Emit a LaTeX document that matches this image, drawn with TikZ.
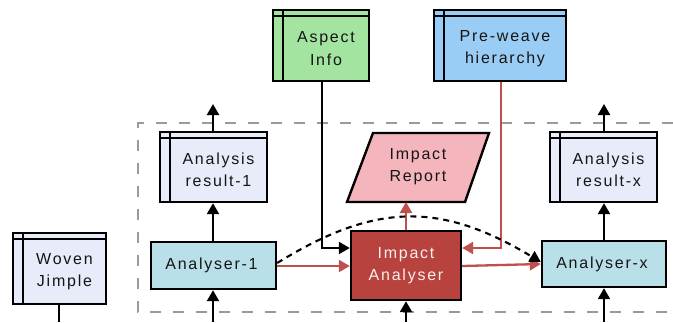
\documentclass[tikz,border=0pt]{standalone}
\usepackage{fontspec}
\setmainfont{Liberation Sans}[LetterSpace=11]
\usetikzlibrary{arrows.meta}

\definecolor{aspectgreen}{HTML}{A3E4A0}
\definecolor{weaveblue}{HTML}{99CDF5}
\definecolor{dbfill}{HTML}{E8ECFA}
\definecolor{analyserfill}{HTML}{B9DFE8}
\definecolor{impactfill}{HTML}{B8423D}
\definecolor{reportfill}{HTML}{F5B5BC}
\definecolor{flowred}{HTML}{C0504D}
\definecolor{frame}{HTML}{9A9A9A}
\definecolor{ink}{HTML}{151515}

\tikzset{
  box/.style={draw=black, line width=2.4pt, rectangle, inner sep=0pt},
  dbbox/.style={box, path picture={
      \draw[line width=2pt] ([xshift=10pt]path picture bounding box.north west)
        -- ([xshift=10pt]path picture bounding box.south west);
      \draw[line width=2pt] ([yshift=-6pt]path picture bounding box.north west)
        -- ([yshift=-6pt]path picture bounding box.north east);}},
  lbl/.style={align=center, text=ink, inner sep=0pt,
      font=\fontsize{16}{22.5}\selectfont},
  tip/.style={-{Triangle[length=11pt,width=12pt]}},
  arr/.style={line width=2.3pt, draw=black, tip},
  redarr/.style={line width=2.3pt, draw=flowred, tip},
}

\begin{document}
\begin{tikzpicture}[x=1pt, y=-1pt]
\useasboundingbox (0,0) rectangle (673,322);

% dashed frame around the analysers
\draw[frame, line width=2.3pt, dash pattern=on 11pt off 12pt]
  (673,123) -- (138,123) -- (138,312) -- (673,312);

% data stores
\node[dbbox, fill=aspectgreen, minimum width=96pt, minimum height=71pt] (aspect) at (321,45.5) {};
\node[lbl] (aspectT) at ([xshift=5pt,yshift=-3pt]aspect.center) {Aspect\\Info};

\node[dbbox, fill=weaveblue, minimum width=132pt, minimum height=71pt] (weave) at (500,45.5) {};
\node[lbl] (weaveT) at ([xshift=5pt,yshift=-3pt]weave.center) {Pre-weave\\hierarchy};

\node[dbbox, fill=dbfill, minimum width=107pt, minimum height=70pt] (res1) at (213.5,167) {};
\node[lbl] (res1T) at ([xshift=5pt,yshift=-3pt]res1.center) {Analysis\\result-1};

\node[dbbox, fill=dbfill, minimum width=107pt, minimum height=70pt] (resx) at (603.5,167) {};
\node[lbl] (resxT) at ([xshift=5pt,yshift=-3pt]resx.center) {Analysis\\result-x};

\node[dbbox, fill=dbfill, minimum width=93pt, minimum height=71pt] (woven) at (59.5,268.5) {};
\node[lbl] (wovenT) at ([xshift=5pt,yshift=-3pt]woven.center) {Woven\\Jimple};

% processes
\node[box, fill=analyserfill, minimum width=125pt, minimum height=47pt] (an1) at (213.5,265.5) {};
\node[lbl] (an1T) at ([xshift=-2pt]an1.center) {Analyser-1};

\node[box, fill=analyserfill, minimum width=124pt, minimum height=46pt] (anx) at (604,264) {};
\node[lbl] (anxT) at ([xshift=-2pt]anx.center) {Analyser-x};

\node[box, fill=impactfill, minimum width=110pt, minimum height=69pt] (ia) at (406,265.5) {};
\node[lbl, text=white!92!impactfill] (iaT) at (ia.center) {Impact\\Analyser};

% impact report (parallelogram)
\draw[line width=2.4pt, fill=reportfill] (373,133) -- (489,133) -- (465,202) -- (347,202) -- cycle;
\node[lbl] (report) at (418,166.5) {Impact\\Report};
\coordinate (reportB) at (ia.north |- 0,202);

% free ends
\coordinate (res1up) at (213,104);
\coordinate (resxup) at (604,104);
\coordinate (an1in) at (213,322);
\coordinate (anxin) at (604,322);
\coordinate (iain) at (406,322);
\coordinate (wovenout) at (59,322);
\coordinate (aspectturn) at (322,248);
\coordinate (weaveturn) at (501,248);

% connectors
\draw[arr] (res1.north -| res1up) -- (res1up);
\draw[arr] (resx.north -| resxup) -- (resxup);
\draw[arr] (an1.north -| an1in) -- (res1.south -| an1in);
\draw[arr] (anx.north -| anxin) -- (resx.south -| anxin);
\draw[arr] (an1in) -- (an1.south -| an1in);
\draw[arr] (anxin) -- (anx.south -| anxin);
\draw[arr] (iain) -- (ia.south -| iain);
\draw[line width=2.3pt] (woven.south -| wovenout) -- (wovenout);

\draw[arr] (aspect.south -| aspectturn) -- (aspectturn) -- (ia.west |- aspectturn);
\draw[redarr] (weave.south -| weaveturn) -- (weaveturn) -- (ia.east |- weaveturn);
\draw[redarr] (an1.east |- 0,266) -- (ia.west |- 0,266);
\draw[redarr] (ia.east |- 0,266) -- (anx.west |- 0,264);
\draw[redarr] (ia.north) -- (reportB);

\draw[line width=2.1pt, dash pattern=on 6pt off 5pt, tip]
  (an1.east |- 0,263) .. controls (376,202) and (441,202) .. (anx.west |- 0,262);
\end{tikzpicture}
\end{document}
